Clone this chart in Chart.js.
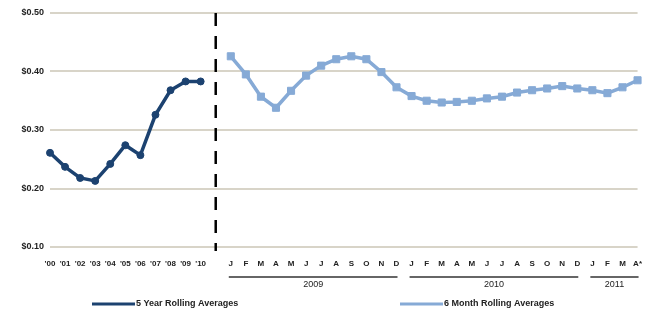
<!DOCTYPE html>
<html>
<head>
<meta charset="utf-8">
<script src="https://cdn.jsdelivr.net/npm/chart.js@4/dist/chart.umd.min.js"></script>
<style>
  html, body { margin: 0; padding: 0; background: #fff; }
  #wrap { width: 654px; height: 320px; position: relative; }
</style>
</head>
<body>
<div id="wrap"><canvas id="chart"></canvas></div>
<script>
const yearLabels = ["'00", "'01", "'02", "'03", "'04", "'05", "'06", "'07", "'08", "'09", "'10"];
const monthLabels = ['J','F','M','A','M','J','J','A','S','O','N','D',
                     'J','F','M','A','M','J','J','A','S','O','N','D',
                     'J','F','M','A*'];
const yearGroupLabels = ['2009', '2010', '2011'];
const yearGroupCounts = [12, 12, 4];

const fiveYearAvg = [0.261, 0.237, 0.218, 0.213, 0.242, 0.274, 0.257, 0.326, 0.368, 0.383, 0.383];
const sixMonthAvg = [0.426, 0.395, 0.357, 0.338, 0.367, 0.393, 0.410, 0.421, 0.426, 0.421, 0.399, 0.373,
                     0.358, 0.350, 0.347, 0.348, 0.350, 0.354, 0.357, 0.364, 0.368, 0.371, 0.375, 0.371,
                     0.368, 0.363, 0.373, 0.385];
const yTicks = [0.10, 0.20, 0.30, 0.40, 0.50];

const darkBlue = '#1c4270';
const lightBlue = '#86aad6';
const font = 'Liberation Sans';

// x axis: years, one empty slot for the divider, then months
const labels = [...yearLabels, '', ...monthLabels];
const gapIndex = yearLabels.length;
const fiveData = labels.map((_, i) => i < fiveYearAvg.length ? fiveYearAvg[i] : null);
const sixData = labels.map((_, i) => i > gapIndex ? sixMonthAvg[i - gapIndex - 1] : null);

const extras = {
  id: 'extras',
  afterDraw(chart) {
    const ctx = chart.ctx;
    const x = chart.scales.x;
    const area = chart.chartArea;
    ctx.save();

    // dashed divider
    const dx = x.getPixelForValue(gapIndex);
    ctx.strokeStyle = '#000';
    ctx.lineWidth = 2.5;
    ctx.setLineDash([13, 10]);
    ctx.beginPath();
    ctx.moveTo(dx, area.top);
    ctx.lineTo(dx, area.bottom + 4);
    ctx.stroke();
    ctx.setLineDash([]);

    // year groups under the months
    let start = gapIndex + 1;
    ctx.font = '9px "' + font + '"';
    ctx.fillStyle = '#222';
    ctx.textAlign = 'center';
    ctx.textBaseline = 'middle';
    yearGroupLabels.forEach((lab, k) => {
      const end = start + yearGroupCounts[k] - 1;
      const x0 = x.getPixelForValue(start) - 2;
      const x1 = x.getPixelForValue(end) + 1;
      ctx.strokeStyle = '#333';
      ctx.lineWidth = 1.5;
      ctx.beginPath();
      ctx.moveTo(x0, area.bottom + 30);
      ctx.lineTo(x1, area.bottom + 30);
      ctx.stroke();
      ctx.fillText(lab, (x0 + x1) / 2, area.bottom + 38);
      start = end + 1;
    });

    // legend
    const ly = area.bottom + 57;
    const items = [
      { text: '5 Year Rolling Averages', color: darkBlue, x: 92 },
      { text: '6 Month Rolling Averages', color: lightBlue, x: 400 }
    ];
    ctx.font = 'bold 9px "' + font + '"';
    ctx.textAlign = 'left';
    items.forEach(it => {
      ctx.strokeStyle = it.color;
      ctx.lineWidth = 3;
      ctx.beginPath();
      ctx.moveTo(it.x, ly);
      ctx.lineTo(it.x + 43, ly);
      ctx.stroke();
      ctx.fillStyle = '#222';
      ctx.fillText(it.text, it.x + 44, ly);
    });
    ctx.restore();
  }
};

new Chart(document.getElementById('chart'), {
  type: 'line',
  data: {
    labels: labels,
    datasets: [{
      label: '5 Year Rolling Averages',
      data: fiveData,
      borderColor: darkBlue,
      backgroundColor: darkBlue,
      borderWidth: 3.5,
      pointStyle: 'circle',
      pointRadius: 3.5,
      pointBorderWidth: 1,
      tension: 0,
      spanGaps: false
    }, {
      label: '6 Month Rolling Averages',
      data: sixData,
      borderColor: lightBlue,
      backgroundColor: lightBlue,
      borderWidth: 3.5,
      pointStyle: 'rect',
      pointRadius: 5,
      pointBorderWidth: 1,
      tension: 0,
      spanGaps: false
    }]
  },
  options: {
    responsive: true,
    maintainAspectRatio: false,
    animation: false,
    layout: { padding: { left: 0, right: 16, top: 13, bottom: 0 } },
    plugins: {
      legend: { display: false },
      tooltip: { enabled: false }
    },
    scales: {
      x: {
        offset: false,
        grid: { display: false, drawTicks: false },
        border: { display: false },
        ticks: {
          autoSkip: false,
          maxRotation: 0,
          minRotation: 0,
          padding: 12,
          color: '#222',
          font: { family: font, size: 8, weight: 'bold' }
        },
        afterFit(scale) { scale.height = 73; }
      },
      y: {
        min: 0.10,
        max: 0.50,
        afterBuildTicks(scale) { scale.ticks = yTicks.map(v => ({ value: v })); },
        grid: { color: '#d8d4c8', lineWidth: 2, drawTicks: false },
        border: { display: false },
        ticks: {
          padding: 6,
          color: '#222',
          font: { family: font, size: 9, weight: 'bold' },
          callback: v => '$' + v.toFixed(2)
        },
        afterFit(scale) { scale.width = 50; }
      }
    }
  },
  plugins: [extras]
});
</script>
</body>
</html>
